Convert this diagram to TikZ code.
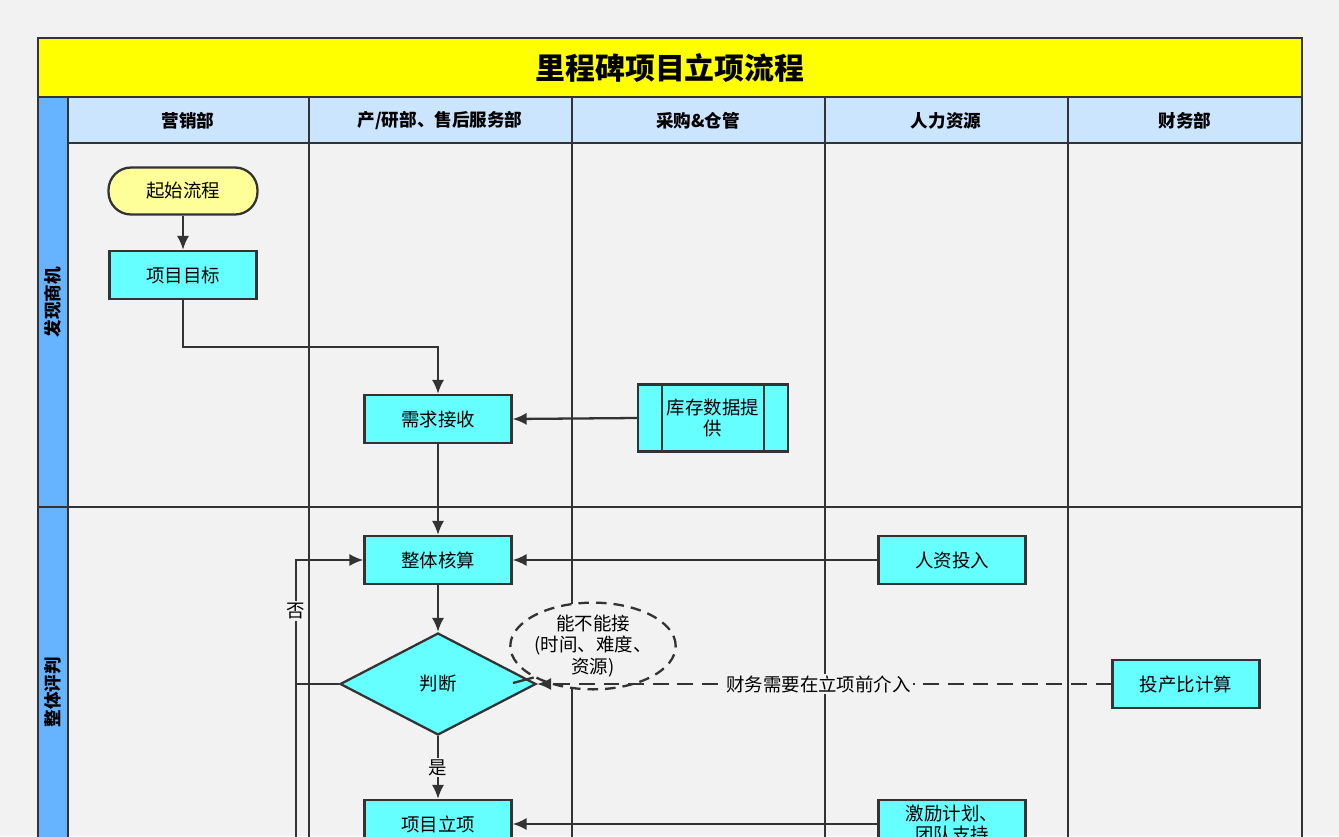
\documentclass[tikz,border=0pt]{standalone}
\usepackage{fontspec}
\setmainfont{Noto Sans CJK SC}
\usetikzlibrary{shapes.geometric,arrows.meta}
\definecolor{bg}{HTML}{F2F2F2}
\definecolor{ln}{HTML}{333333}
\definecolor{hdr}{HTML}{CCE5FF}
\definecolor{lane}{HTML}{66B3FF}
\definecolor{cy}{HTML}{66FFFF}
\definecolor{yl}{HTML}{FFFF99}
\definecolor{ttl}{HTML}{FFFF00}
\begin{document}
\begin{tikzpicture}[x=0.02cm,y=-0.02cm,line width=1.3pt,
  box/.style={draw=ln,fill=cy,minimum width=2.94cm,minimum height=0.96cm,inner sep=1pt,font=\fontsize{10.5}{12}\selectfont,align=center},
  arr/.style={draw=ln,-{Latex[length=8pt,width=7pt]}},
  lbl/.style={fill=bg,inner sep=1pt,font=\fontsize{10.5}{12}\selectfont},
  hd/.style={font=\bfseries\fontsize{10}{12}\selectfont}]
\useasboundingbox (0,0) rectangle (1339,836);
\clip (0,0) rectangle (1339,836);
\fill[bg] (0,0) rectangle (1339,836);
% frame
\fill[ttl] (38,38) rectangle (1302,97);
\node[font=\bfseries\fontsize{17}{20}\selectfont] (title) at (670,68) {里程碑项目立项流程};
\fill[hdr] (68,97) rectangle (1302,143);
\fill[lane] (38,97) rectangle (68,900);
\draw[ln] (38,38) rectangle (1302,900);
\draw[ln] (38,97) -- (1302,97);
\draw[ln] (68,143) -- (1302,143);
\draw[ln] (68,97) -- (68,900);
\foreach \x in {309,572,825,1068} \draw[ln] (\x,97) -- (\x,900);
\draw[ln] (38,507) -- (1302,507);
\node[hd] (h1) at (188,121) {营销部};
\node[hd] (h2) at (440,121) {产/研部、售后服务部};
\node[hd] (h3) at (698,121) {采购\&仓管};
\node[hd] (h4) at (946,121) {人力资源};
\node[hd] (h5) at (1185,121) {财务部};
\node[hd,rotate=90] (l1) at (53,302) {发现商机};
\node[hd,rotate=90] (l2) at (53,692) {整体评判};
% nodes
\node[box,fill=yl,rounded corners=0.45cm,minimum width=2.98cm,minimum height=0.94cm] (start) at (183,191) {起始流程};
\node[box] (goal) at (183,275) {项目目标};
\node[box,minimum width=3cm,minimum height=1.34cm] (stock) at (713,418) {库存数据提\\供};
\node[box] (req) at (438,419) {需求接收};
\draw[ln] (662,385) -- (662,452) (764,385) -- (764,452);
\node[box] (calc) at (438,560) {整体核算};
\node[box] (hr) at (952,560) {人资投入};
\node[box,diamond,aspect=1.92,minimum width=3.92cm,minimum height=2.04cm,inner sep=0pt] (judge) at (438,684) {判断};
\node[draw=ln,dashed,dash pattern=on 6pt off 4pt,ellipse,fill=bg,minimum width=3.24cm,minimum height=1.52cm,inner sep=0pt,align=center,font=\fontsize{10.5}{12}\selectfont] (note) at (593,646) {能不能接\\(时间、难度、\\资源)};
\node[box] (roi) at (1186,684) {投产比计算};
\node[box] (proj) at (438,824) {项目立项};
\node[box,align=center] (inc) at (952,824) {激励计划、\\团队支持};
% edges
\draw[arr] (start) -- (goal);
\draw[arr] (goal.south) |- (438,347) -- (req.north);
\draw[arr] (stock.west) -- (req.east);
\draw[arr] (req) -- (calc);
\draw[arr] (hr) -- (calc);
\draw[arr] (calc) -- (judge);
\draw[arr] (judge) -- node[lbl]{是} (proj);
\draw[arr] (judge.west) -- (296,684) |- (calc.west);
\node[lbl] (no) at (296,611) {否};
\coordinate (bl) at (296,840);
\draw[ln] (bl) -- (296,684);
\draw[arr,dash pattern=on 9pt off 5pt] (roi) -- node[lbl,pos=0.51]{财务需要在立项前介入} (judge.east);
\draw[ln] (513,683) -- (note.south west);
\draw[arr] (inc) -- (proj);
\end{tikzpicture}
\end{document}
